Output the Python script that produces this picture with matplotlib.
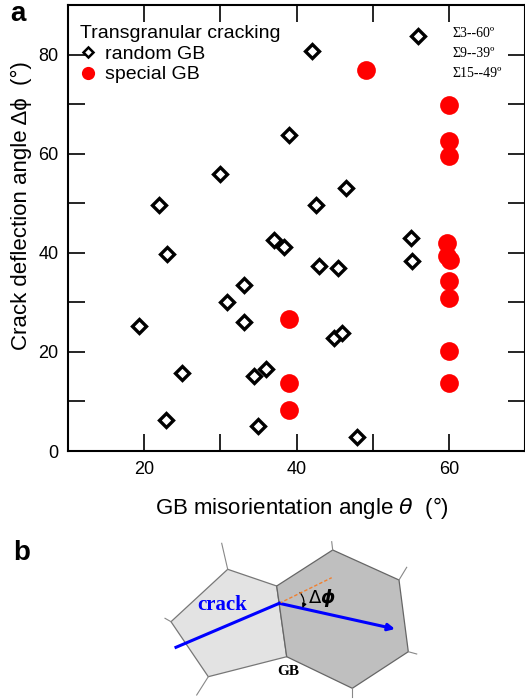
import matplotlib
matplotlib.use("Agg")
import matplotlib.pyplot as plt
from matplotlib.lines import Line2D
from matplotlib.patches import Polygon, FancyArrowPatch

plt.rcParams['font.family'] = ['Liberation Sans', 'DejaVu Sans']

# random GB (misorientation, deflection)
random_theta = [56, 42, 39, 30, 22, 42.5, 46.5, 55, 37, 38.3, 23, 55.1, 43, 45.5,
                33.1, 30.9, 33.1, 19.3, 44.9, 46, 25, 34.4, 36, 22.9, 35, 48]
random_dphi = [83.7, 80.7, 63.8, 55.8, 49.6, 49.6, 53.1, 43.0, 42.6, 41.1, 39.8, 38.4, 37.4, 36.9,
               33.4, 30.0, 26.0, 25.3, 22.8, 23.8, 15.8, 15.2, 16.5, 6.3, 5.1, 2.9]

# special GB
special_theta = [49.1, 60, 60, 60, 59.7, 59.8, 60.1, 60, 60, 39, 60, 39, 60, 39]
special_dphi = [76.8, 69.8, 62.5, 59.6, 42.0, 39.4, 38.6, 34.4, 30.8, 26.7, 20.1, 13.7, 13.8, 8.3]

sigma_labels = ['\u03a33--60\u00ba', '\u03a39--39\u00ba', '\u03a315--49\u00ba']

# schematic of panel b (figure pixel coordinates)
grain_left = [(227.7, 569.3), (276.7, 586), (286.7, 656.7), (208.3, 676.7), (171, 621.7)]
grain_right = [(276.7, 586), (332.7, 550), (399, 580), (408.3, 651.7), (352.3, 688.3), (286.7, 656.7)]
stubs = [((227.7, 569.3), (221.7, 543.3)), ((171, 621.7), (165, 618.3)),
         ((208.3, 676.7), (196.7, 695)), ((332.7, 550), (331.7, 541.7)),
         ((399, 580), (406.7, 567.3)), ((408.3, 651.7), (416.7, 654)),
         ((352.3, 688.3), (352.3, 696.7))]
crack_path = [(176, 647.3), (279.3, 603.3), (395, 629)]
extension = [(279.3, 603.3), (331.7, 577.7)]

fig = plt.figure(figsize=(5.25, 6.99), dpi=100)
ax = fig.add_axes([68 / 525, 1 - 451 / 699, 457 / 525, 446 / 699])

ax.plot(random_theta, random_dphi, linestyle='none', marker='D', ms=7.5, mew=2.4,
        mec='black', mfc='white', zorder=3)
ax.plot(special_theta, special_dphi, linestyle='none', marker='o', ms=13.5,
        mec='none', mfc='#ff0000', zorder=3)

ax.set_xlim(10, 70)
ax.set_ylim(0, 90)
ax.set_xticks([20, 30, 40, 50, 60])
ax.set_xticklabels(['20', '', '40', '', '60'])
ax.set_yticks([0, 10, 20, 30, 40, 50, 60, 70, 80])
ax.set_yticklabels(['0', '', '20', '', '40', '', '60', '', '80'])
ax.tick_params(direction='in', top=True, right=True, length=12, width=1.2,
               labelsize=13, pad=7)
for s in ax.spines.values():
    s.set_linewidth(1.5)

ax.set_xlabel(r'GB misorientation angle $\theta$  (°)', fontsize=16)
ax.set_ylabel('Crack deflection angle \u0394\u03d5  (°)', fontsize=16)
ax.xaxis.set_label_coords(0.512, -0.098)
ax.yaxis.set_label_coords(-0.078, 0.55)

handles = [Line2D([], [], linestyle='none', marker='D', ms=5.5, mew=1.8, mec='black', mfc='white'),
           Line2D([], [], linestyle='none', marker='o', ms=9.5, mec='none', mfc='#ff0000')]
leg = ax.legend(handles, ['random GB', 'special GB'], title='Transgranular cracking',
                loc='upper left', bbox_to_anchor=(0.01, 0.972), frameon=False,
                fontsize=14, title_fontsize=14, handlelength=0.8, handletextpad=0.45,
                borderaxespad=0, labelspacing=0.15, alignment='left')

for i, lab in enumerate(sigma_labels):
    ax.text(0.842, 0.937 - i * 0.045, lab, transform=ax.transAxes, fontsize=10,
            family='Liberation Serif', va='center', ha='left')

fig.text(18 / 525, 1 - 14 / 699, 'a', fontsize=20, fontweight='bold', ha='center', va='center')
fig.text(22 / 525, 1 - 553 / 699, 'b', fontsize=20, fontweight='bold', ha='center', va='center')

# panel b drawing
ax2 = fig.add_axes([0, 0, 1, 1])
ax2.set_xlim(0, 525)
ax2.set_ylim(699, 0)
ax2.axis('off')
ax2.patch.set_alpha(0)
for (p, q) in stubs:
    ax2.plot([p[0], q[0]], [p[1], q[1]], color='#888888', lw=0.8)
ax2.add_patch(Polygon(grain_left, closed=True, fc='#e3e3e3', ec='#777777', lw=0.9))
ax2.add_patch(Polygon(grain_right, closed=True, fc='#bfbfbf', ec='#666666', lw=0.9))
ax2.plot([p[0] for p in extension], [p[1] for p in extension], color='#f08030',
         lw=1.0, linestyle=(0, (2.5, 1.5)))
cx = [p[0] for p in crack_path]
cy = [p[1] for p in crack_path]
ax2.plot(cx[:2], cy[:2], color='#0000ff', lw=2.2)
ax2.add_patch(FancyArrowPatch(crack_path[1], crack_path[2], arrowstyle='-|>',
                              mutation_scale=10, color='#0000ff', lw=2.2,
                              shrinkA=0, shrinkB=0))
ax2.add_patch(FancyArrowPatch((300, 592.5), (302.5, 608), arrowstyle='-|>',
                              connectionstyle='arc3,rad=-0.3', mutation_scale=6,
                              color='black', lw=0.9, shrinkA=0, shrinkB=0))
ax2.text(222, 605, 'crack', color='#0000ff', fontsize=15, fontweight='bold',
         family='Liberation Serif', ha='center', va='center')
ax2.text(322, 598, r'$\Delta\boldsymbol{\phi}$', fontsize=13, ha='center', va='center')
ax2.text(288.5, 671.5, 'GB', fontsize=11, fontweight='bold',
         family='Liberation Serif', ha='center', va='center')

fig.savefig('out.png', dpi=100)
